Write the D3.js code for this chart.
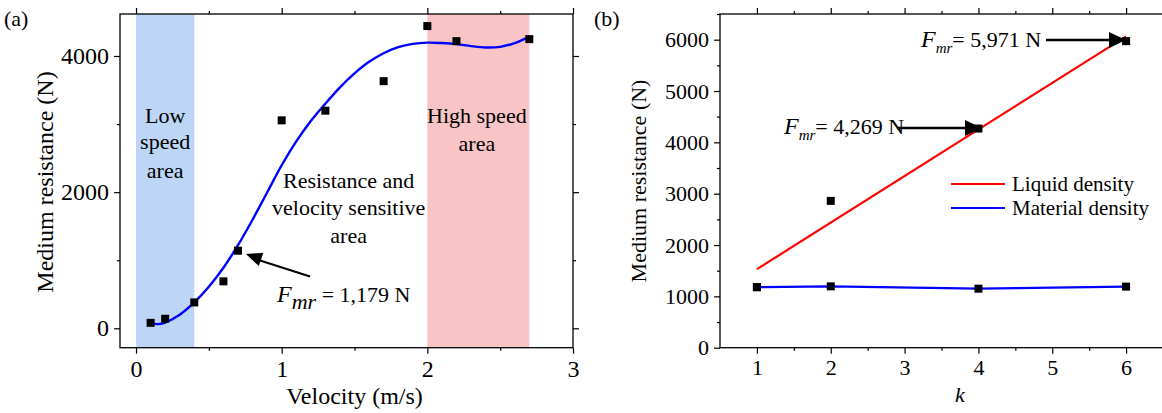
<!DOCTYPE html>
<html lang="en">
<head>
<meta charset="UTF-8">
<title>Medium resistance</title>
<script src="https://d3js.org/d3.v7.min.js"></script>
<style>
  *{padding:0; margin:0; box-sizing:border-box;}
  body{background:#fff;}
  svg text{font-family:"Liberation Serif","Times New Roman",serif; fill:#000;}
  .domain{display:none;}
  .tick line{stroke:#000; stroke-width:1.2;}
</style>
</head>
<body>
<script>
// ---- panel (a) data ----
const velocity   = [0.1, 0.2, 0.4, 0.6, 0.7, 1.0, 1.3, 1.7, 2.0, 2.2, 2.7];
const resistance = [80, 140, 380, 690, 1140, 3055, 3197, 3630, 4440, 4218, 4248];
// fitted curve
const fitVelocity   = [0.1, 0.15, 0.2, 0.3, 0.4, 0.5, 0.6, 0.7, 0.8, 0.9, 1.0, 1.1, 1.2, 1.3, 1.4, 1.5, 1.6, 1.7, 1.8, 1.9, 2.0, 2.1, 2.2, 2.3, 2.4, 2.5, 2.6, 2.7];
const fitResistance = [80, 62, 85, 200, 380, 610, 890, 1220, 1595, 1995, 2395, 2745, 3045, 3300, 3540, 3745, 3915, 4040, 4130, 4178, 4196, 4190, 4175, 4145, 4125, 4135, 4190, 4285];
const lowZone  = [0, 0.4];
const highZone = [2, 2.7];
const xTicksA = [0, 1, 2, 3];
const yTicksA = [0, 2000, 4000];

// ---- panel (b) data ----
const kValues  = [1, 2, 4, 6];
const liquid   = [1179, 2860, 4269, 5971];
const material = [1179, 1195, 1150, 1190];
const liquidFitK = [1, 6];
const liquidFit  = [1530, 6065];
const xTicksB = [1, 2, 3, 4, 5, 6];
const yTicksB = [0, 1000, 2000, 3000, 4000, 5000, 6000];

const svg = d3.select('body').append('svg')
    .attr('width', 1162).attr('height', 413);

function frameAxes(g, x, y, xMajor, xMinor, yMajor, yMinor, fontSize){
    const [x0, x1] = x.range(), [y0, y1] = y.range();
    // minor ticks
    g.append('g').attr('transform', `translate(0,${y0})`)
        .call(d3.axisBottom(x).tickValues(xMinor).tickSize(3).tickFormat(''));
    g.append('g').attr('transform', `translate(0,${y1})`)
        .call(d3.axisTop(x).tickValues(xMinor).tickSize(3).tickFormat(''));
    g.append('g').attr('transform', `translate(${x0},0)`)
        .call(d3.axisLeft(y).tickValues(yMinor).tickSize(3).tickFormat(''));
    g.append('g').attr('transform', `translate(${x1},0)`)
        .call(d3.axisRight(y).tickValues(yMinor).tickSize(3).tickFormat(''));
    // major ticks
    const bx = g.append('g').attr('transform', `translate(0,${y0})`)
        .call(d3.axisBottom(x).tickValues(xMajor).tickSize(6).tickPadding(6).tickFormat(d3.format('d')));
    g.append('g').attr('transform', `translate(0,${y1})`)
        .call(d3.axisTop(x).tickValues(xMajor).tickSize(6).tickFormat(''));
    const ly = g.append('g').attr('transform', `translate(${x0},0)`)
        .call(d3.axisLeft(y).tickValues(yMajor).tickSize(6).tickPadding(5).tickFormat(d3.format('d')));
    g.append('g').attr('transform', `translate(${x1},0)`)
        .call(d3.axisRight(y).tickValues(yMajor).tickSize(6).tickFormat(''));
    bx.attr('font-family', null).selectAll('text').style('font-size', fontSize + 'px');
    ly.attr('font-family', null).selectAll('text').style('font-size', fontSize + 'px');
    g.append('rect')
        .attr('x', x0).attr('y', y1).attr('width', x1 - x0).attr('height', y0 - y1)
        .attr('fill', 'none').attr('stroke', '#000').attr('stroke-width', 1.3);
}

function squares(g, xs, ys, x, y, s){
    g.append('g').selectAll('rect').data(xs).enter().append('rect')
        .attr('x', (d) => x(d) - s / 2)
        .attr('y', (d, i) => y(ys[i]) - s / 2)
        .attr('width', s).attr('height', s)
        .attr('fill', '#000');
}

function arrowHead(g, tipX, tipY, angle, len, half){
    // triangle pointing along angle (radians)
    const c = Math.cos(angle), s = Math.sin(angle);
    const bx = tipX - len * c, by = tipY - len * s;
    g.append('path')
        .attr('d', `M${tipX},${tipY} L${bx - half * s},${by + half * c} L${bx + half * s},${by - half * c} Z`)
        .attr('fill', '#000');
}

// ================= panel (a) =================
const xa = d3.scaleLinear().domain([-0.11, 3]).range([120, 573]);
const ya = d3.scaleLinear().domain([-285, 4617]).range([347.7, 14]);
const ga = svg.append('g');

ga.append('rect')
    .attr('x', xa(lowZone[0])).attr('y', ya.range()[1])
    .attr('width', xa(lowZone[1]) - xa(lowZone[0]))
    .attr('height', ya.range()[0] - ya.range()[1])
    .attr('fill', '#bdd6f5');
ga.append('rect')
    .attr('x', xa(highZone[0])).attr('y', ya.range()[1])
    .attr('width', xa(highZone[1]) - xa(highZone[0]))
    .attr('height', ya.range()[0] - ya.range()[1])
    .attr('fill', '#f8c4c5');

frameAxes(ga, xa, ya, xTicksA, [0.5, 1.5, 2.5], yTicksA, [1000, 3000], 24);

ga.append('path')
    .datum(fitVelocity)
    .attr('fill', 'none').attr('stroke', '#0000ff').attr('stroke-width', 2.4)
    .attr('d', d3.line().x((d) => xa(d)).y((d, i) => ya(fitResistance[i])).curve(d3.curveCatmullRom));

squares(ga, velocity, resistance, xa, ya, 8);

// zone labels
const zoneText = [
    {lines: ['Low', 'speed', 'area'], x: 0.2, y: [3020, 2640, 2215]},
    {lines: ['High speed', 'area'], x: 2.34, y: [3020, 2610]},
    {lines: ['Resistance and', 'velocity sensitive', 'area'], x: 1.46, y: [2060, 1665, 1255]}
];
zoneText.forEach((z) => {
    z.lines.forEach((t, i) => {
        ga.append('text').text(t)
            .attr('x', xa(z.x)).attr('y', ya(z.y[i]))
            .attr('text-anchor', 'middle').style('font-size', '22px');
    });
});

// arrow to the 0.7 m/s point
ga.append('line')
    .attr('x1', xa(1.195)).attr('y1', ya(760))
    .attr('x2', xa(0.83)).attr('y2', ya(1010))
    .attr('stroke', '#000').attr('stroke-width', 2.2);
arrowHead(ga, xa(0.755), ya(1090),
    Math.atan2(ya(1090) - ya(760), xa(0.755) - xa(1.195)), 16, 7);

const ta = ga.append('text').attr('x', 277).attr('y', 302).style('font-size', '22px');
ta.append('tspan').text('F').style('font-style', 'italic').style('font-size', '24px');
ta.append('tspan').text('mr').style('font-style', 'italic').attr('dy', 7).style('font-size', '22px');
ta.append('tspan').text(' = 1,179 N').attr('dy', -7);

ga.append('text').text('Velocity (m/s)')
    .attr('x', xa(1.5)).attr('y', 404)
    .attr('text-anchor', 'middle').style('font-size', '24px');
ga.append('text').text('Medium resistance (N)')
    .attr('transform', `translate(53,${182}) rotate(-90)`)
    .attr('text-anchor', 'middle').style('font-size', '24px');
ga.append('text').text('(a)').attr('x', 4).attr('y', 26).style('font-size', '22px');

// ================= panel (b) =================
const xb = d3.scaleLinear().domain([0.5, 6.5]).range([720, 1163]);
const yb = d3.scaleLinear().domain([0, 6500]).range([347.7, 14]);
const gb = svg.append('g');

frameAxes(gb, xb, yb, xTicksB, [1.5, 2.5, 3.5, 4.5, 5.5],
    yTicksB, [500, 1500, 2500, 3500, 4500, 5500, 6500], 22);

gb.append('path')
    .datum(liquidFitK)
    .attr('fill', 'none').attr('stroke', '#ff0000').attr('stroke-width', 2.2)
    .attr('d', d3.line().x((d) => xb(d)).y((d, i) => yb(liquidFit[i])));
gb.append('path')
    .datum(kValues)
    .attr('fill', 'none').attr('stroke', '#0000ff').attr('stroke-width', 2.4)
    .attr('d', d3.line().x((d) => xb(d)).y((d, i) => yb(material[i])));

squares(gb, kValues, liquid, xb, yb, 8);
squares(gb, kValues, material, xb, yb, 8);

// annotations
const notes = [
    {text: '= 4,269 N', tx: 784, ty: 134, x1: 897, x2: 968, tip: 982, v: 4279},
    {text: '= 5,971 N', tx: 921, ty: 47, x1: 1046, x2: 1112, tip: 1126, v: 5993}
];
notes.forEach((n) => {
    const t = gb.append('text').attr('x', n.tx).attr('y', n.ty).style('font-size', '22px');
    t.append('tspan').text('F').style('font-style', 'italic').style('font-size', '24px');
    t.append('tspan').text('mr').style('font-style', 'italic').attr('dy', 6).style('font-size', '15px');
    t.append('tspan').text(n.text).attr('dy', -6);
    gb.append('line')
        .attr('x1', n.x1).attr('x2', n.x2)
        .attr('y1', yb(n.v)).attr('y2', yb(n.v))
        .attr('stroke', '#000').attr('stroke-width', 2.4);
    arrowHead(gb, n.tip, yb(n.v), 0, 17, 8);
});

// legend
const legend = [
    {name: 'Liquid density', color: '#ff0000'},
    {name: 'Material density', color: '#0000ff'}
];
legend.forEach((l, i) => {
    const yy = 184 + i * 24;
    gb.append('line').attr('x1', 951).attr('x2', 1005).attr('y1', yy).attr('y2', yy)
        .attr('stroke', l.color).attr('stroke-width', 2.2);
    gb.append('text').text(l.name).attr('x', 1012).attr('y', yy + 7).style('font-size', '21px');
});

gb.append('text').text('k')
    .attr('x', xb(3.75)).attr('y', 402)
    .attr('text-anchor', 'middle').style('font-size', '22px').style('font-style', 'italic');
gb.append('text').text('Medium resistance (N)')
    .attr('transform', `translate(646,${181}) rotate(-90)`)
    .attr('text-anchor', 'middle').style('font-size', '22px');
gb.append('text').text('(b)').attr('x', 594).attr('y', 26).style('font-size', '22px');
</script>
</body>
</html>
